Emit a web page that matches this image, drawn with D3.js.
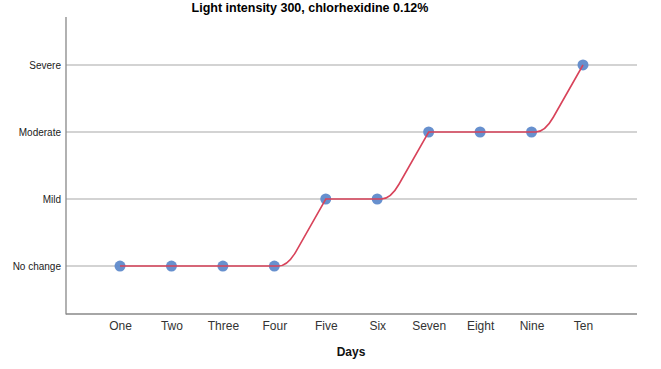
<!DOCTYPE html>
<html><head><meta charset="utf-8">
<script src="https://cdn.jsdelivr.net/npm/d3@7"></script>
<style>body{margin:0;background:#fff}svg{display:block}text{font-family:"Liberation Sans",Arial,sans-serif}</style>
</head><body>
<svg id="chart" width="661" height="369"></svg>
<script>
const days = ["One","Two","Three","Four","Five","Six","Seven","Eight","Nine","Ten"];
const severityLevels = ["No change","Mild","Moderate","Severe"];
const severityValues = [1,1,1,1,2,2,3,3,3,4];
const title = "Light intensity 300, chlorhexidine 0.12%";
const xTitle = "Days";

(function(){
// custom curve: flat start, rounded corner, then straight into next point
function CornerCurve(context){ this._context = context; }
CornerCurve.prototype = {
  areaStart(){}, areaEnd(){},
  lineStart(){ this._pts = []; },
  point(x, y){ this._pts.push([+x, +y]); },
  lineEnd(){
    const c = this._context, p = this._pts;
    if (!p.length) return;
    c.moveTo(p[0][0], p[0][1]);
    for (let i = 1; i < p.length; i++) {
      const [x0, y0] = p[i-1], [x1, y1] = p[i];
      if (y0 === y1) { c.lineTo(x1, y1); continue; }
      const dx = x1 - x0;
      const ax = x0 + 0.08 * dx;
      c.lineTo(ax, y0);
      const cx = x0 + 0.26 * dx;
      const ex = cx + 0.22 * (x1 - cx), ey = y0 + 0.22 * (y1 - y0);
      c.quadraticCurveTo(cx, y0, ex, ey);
      c.lineTo(x1, y1);
    }
  }
};
const cornerCurve = ctx => new CornerCurve(ctx);

const svg = d3.select("#chart");
const mLeft = 66, mRight = 637, mTop = 17, mBottom = 314;

const x = d3.scalePoint().domain(days).range([mLeft, mRight]).padding(1.05);
const y = d3.scaleLinear().domain([0.284, 4.716]).range([mBottom, mTop]);

// gridlines
svg.append("g").selectAll("line").data(severityLevels).join("line")
  .attr("x1", mLeft).attr("x2", mRight)
  .attr("y1", (d,i)=>y(i+1)).attr("y2", (d,i)=>y(i+1))
  .attr("stroke", "#c4c4c4").attr("stroke-width", 1.4);

// y axis
const yAxis = d3.axisLeft(y).tickValues([1,2,3,4]).tickFormat(v=>severityLevels[v-1]).tickSize(0).tickPadding(5);
const gy = svg.append("g").attr("transform", `translate(${mLeft},0)`).call(yAxis);
gy.select(".domain").remove();
gy.selectAll("text").attr("font-size", 10).attr("fill", "#222").attr("font-family", "'Liberation Sans',Arial,sans-serif");
svg.append("line").attr("x1", mLeft).attr("x2", mLeft).attr("y1", mTop).attr("y2", mBottom+0.5)
  .attr("stroke", "#888").attr("stroke-width", 1.3);

// x axis
const xAxis = d3.axisBottom(x).tickSize(0).tickPadding(7);
const gx = svg.append("g").attr("transform", `translate(0,${mBottom})`).call(xAxis);
gx.select(".domain").remove();
gx.selectAll("text").attr("font-size", 12).attr("fill", "#333").attr("font-family", "'Liberation Sans',Arial,sans-serif");
svg.append("line").attr("x1", mLeft).attr("x2", mRight).attr("y1", mBottom).attr("y2", mBottom)
  .attr("stroke", "#888").attr("stroke-width", 1.3);

// points
svg.append("g").selectAll("circle").data(days).join("circle")
  .attr("cx", d=>x(d)).attr("cy", (d,i)=>y(severityValues[i]))
  .attr("r", 5.5).attr("fill", "#5f8acb").attr("fill-opacity", 0.95);

// line
const line = d3.line().x((d,i)=>x(days[i])).y(d=>y(d)).curve(cornerCurve);
svg.append("path").datum(severityValues).attr("d", line)
  .attr("fill", "none").attr("stroke", "#d8435a").attr("stroke-width", 1.6);

// titles
svg.append("text").attr("x", 310).attr("y", 12).attr("text-anchor", "middle")
  .attr("font-size", 12.5).attr("font-weight", "bold").attr("fill", "#000").text(title);
svg.append("text").attr("x", 351).attr("y", 356).attr("text-anchor", "middle")
  .attr("font-size", 12).attr("font-weight", "bold").attr("fill", "#111").text(xTitle);
})();
</script>
</body></html>
